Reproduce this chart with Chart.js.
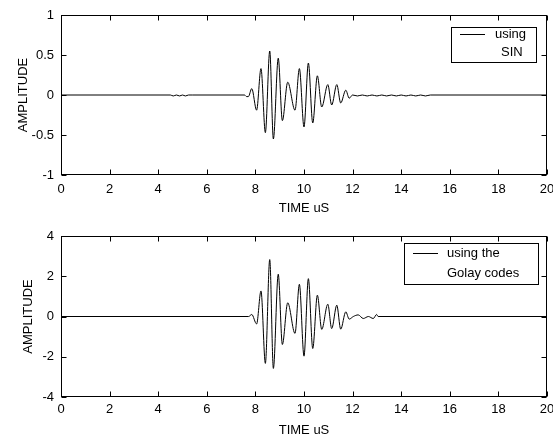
<!DOCTYPE html>
<html>
<head>
<meta charset="utf-8">
<script src="https://cdn.jsdelivr.net/npm/chart.js@4.4.1/dist/chart.umd.min.js"></script>
<style>
  html, body { margin: 0; padding: 0; background: #fff; }
  #wrap { position: relative; width: 553px; height: 439px; overflow: hidden; }
  #top { position: absolute; left: 0; top: 0; }
  #bottom { position: absolute; left: 0; top: 219px; }
</style>
</head>
<body>
<div id="wrap">
  <canvas id="top" width="553" height="219"></canvas>
  <canvas id="bottom" width="553" height="220"></canvas>
</div>
<script>
// time (uS) and amplitude, peak by peak
const sinTime = [0, 4.50, 4.62, 4.75, 4.88, 5.00, 5.12, 5.25, 5.40, 7.55, 7.64, 7.71, 7.85, 8.05, 8.23, 8.41, 8.59, 8.74, 8.94, 9.11, 9.33, 9.63, 9.81, 10.00, 10.18, 10.36, 10.55, 10.73, 10.98, 11.14, 11.35, 11.51, 11.72, 11.86, 12.00, 12.20, 12.40, 12.60, 12.80, 13.00, 13.20, 13.40, 13.60, 13.80, 14.00, 14.20, 14.40, 14.60, 14.80, 15.00, 15.20, 20];
const sinAmp = [0, 0, -0.012, 0, -0.012, 0, -0.012, 0, 0, 0, -0.02, -0.02, 0.08, -0.19, 0.33, -0.47, 0.55, -0.55, 0.46, -0.32, 0.16, -0.19, 0.33, -0.40, 0.40, -0.35, 0.24, -0.15, 0.13, -0.125, 0.13, -0.10, 0.06, -0.04, 0, -0.012, 0, -0.012, 0, -0.012, 0, -0.012, 0, -0.012, 0, -0.012, 0, -0.012, 0, -0.012, 0, 0];

const golayTime = [0, 7.72, 7.85, 8.05, 8.23, 8.41, 8.59, 8.74, 8.94, 9.11, 9.33, 9.63, 9.81, 10.00, 10.18, 10.36, 10.55, 10.73, 10.98, 11.14, 11.35, 11.51, 11.72, 11.86, 12.03, 12.23, 12.44, 12.65, 12.85, 12.99, 13.05, 20];
const golayAmp = [0, 0, 0.10, -0.37, 1.27, -2.33, 2.83, -2.58, 2.10, -1.39, 0.68, -0.84, 1.60, -1.97, 1.88, -1.59, 1.06, -0.64, 0.61, -0.60, 0.56, -0.63, 0.23, -0.13, 0, 0.08, -0.10, 0, -0.10, 0.10, 0, 0];

const xTicks = { min: 0, max: 20, step: 2 };
const sinYTicks = { min: -1, max: 1, step: 0.5 };
const golayYTicks = { min: -4, max: 4, step: 2 };

const sinLegend = ['using', 'SIN'];
const golayLegend = ['using the', 'Golay codes'];

const FONT = 'Liberation Sans';
Chart.defaults.color = '#000000';
Chart.defaults.font.family = FONT;
Chart.defaults.font.size = 13;

// box round the plot with the ticks pointing inwards on all 4 sides
const matlabBox = {
    id: 'matlabBox',
    afterDatasetsDraw(chart) {
        const ctx = chart.ctx;
        const a = chart.chartArea;
        const sx = chart.scales.x;
        const sy = chart.scales.y;
        const L = Math.round(a.left) + 0.5, R = Math.round(a.right) - 0.5;
        const T = Math.round(a.top) + 0.5, B = Math.round(a.bottom) - 0.5;
        ctx.save();
        ctx.strokeStyle = '#000000';
        ctx.lineWidth = 1;
        ctx.beginPath();
        sx.ticks.forEach(t => {
            const p = Math.round(sx.getPixelForValue(t.value)) + 0.5;
            ctx.moveTo(p, B); ctx.lineTo(p, B - 5);
            ctx.moveTo(p, T); ctx.lineTo(p, T + 5);
        });
        sy.ticks.forEach(t => {
            const p = Math.round(sy.getPixelForValue(t.value)) + 0.5;
            ctx.moveTo(L, p); ctx.lineTo(L + 5, p);
            ctx.moveTo(R, p); ctx.lineTo(R - 5, p);
        });
        ctx.stroke();
        ctx.strokeRect(L, T, R - L, B - T);
        ctx.restore();
    }
};

// legend box drawn inside the plot like matlab does
const boxLegend = {
    id: 'boxLegend',
    afterDraw(chart, args, o) {
        const ctx = chart.ctx;
        ctx.save();
        ctx.fillStyle = '#ffffff';
        ctx.fillRect(o.x, o.y, o.w, o.h);
        ctx.strokeStyle = '#000000';
        ctx.lineWidth = 1;
        ctx.strokeRect(o.x + 0.5, o.y + 0.5, o.w, o.h);
        ctx.beginPath();
        ctx.moveTo(o.lineX1, o.lineY + 0.5);
        ctx.lineTo(o.lineX2, o.lineY + 0.5);
        ctx.stroke();
        ctx.fillStyle = '#000000';
        ctx.font = '13px "' + FONT + '"';
        ctx.textBaseline = 'middle';
        o.text.forEach((t, i) => ctx.fillText(t, o.textX[i], o.textY[i]));
        ctx.restore();
    }
};

function makePairs(xs, ys) {
    return xs.map((x, i) => ({ x: x, y: ys[i] }));
}

function makeChart(id, xs, ys, yT, legendText, lay) {
    return new Chart(document.getElementById(id), {
        type: 'line',
        data: {
            datasets: [{
                label: legendText.join(' '),
                data: makePairs(xs, ys),
                borderColor: '#000000',
                borderWidth: 1,
                pointRadius: 0,
                fill: false,
                cubicInterpolationMode: 'monotone'
            }]
        },
        options: {
            responsive: false,
            animation: false,
            devicePixelRatio: 1,
            layout: { padding: { top: lay.top, right: 6, left: 0, bottom: 0 } },
            scales: {
                x: {
                    type: 'linear',
                    min: xTicks.min,
                    max: xTicks.max,
                    border: { display: false },
                    grid: { display: false, drawTicks: false },
                    ticks: { stepSize: xTicks.step, padding: lay.xPad, maxRotation: 0, autoSkip: false },
                    title: { display: true, text: 'TIME uS', padding: { top: 0, bottom: lay.xTitlePad } },
                    afterFit: s => { s.height = lay.xH; s.paddingLeft = 0; s.paddingRight = 0; }
                },
                y: {
                    type: 'linear',
                    min: yT.min,
                    max: yT.max,
                    border: { display: false },
                    grid: { display: false, drawTicks: false },
                    ticks: { stepSize: yT.step, padding: 7, callback: v => String(v) },
                    title: { display: true, text: 'AMPLITUDE', padding: { top: lay.yTitlePad, bottom: 0 } },
                    afterFit: s => { s.width = 61; s.paddingTop = 0; s.paddingBottom = 0; }
                }
            },
            plugins: {
                legend: { display: false },
                tooltip: { enabled: false },
                boxLegend: Object.assign({ text: legendText }, lay.legend)
            }
        },
        plugins: [matlabBox, boxLegend]
    });
}

makeChart('top', sinTime, sinAmp, sinYTicks, sinLegend, {
    top: 15, xH: 44, xPad: 7, xTitlePad: 3, yTitlePad: 16,
    legend: { x: 451, y: 27, w: 85, h: 35, lineX1: 460, lineX2: 485, lineY: 34, textX: [495, 501], textY: [34, 52] }
});

makeChart('bottom', golayTime, golayAmp, golayYTicks, golayLegend, {
    top: 17, xH: 42, xPad: 5, xTitlePad: 1, yTitlePad: 21,
    legend: { x: 404, y: 24, w: 134, h: 41, lineX1: 413, lineX2: 438, lineY: 34, textX: [447, 447], textY: [34, 54] }
});
</script>
</body>
</html>
